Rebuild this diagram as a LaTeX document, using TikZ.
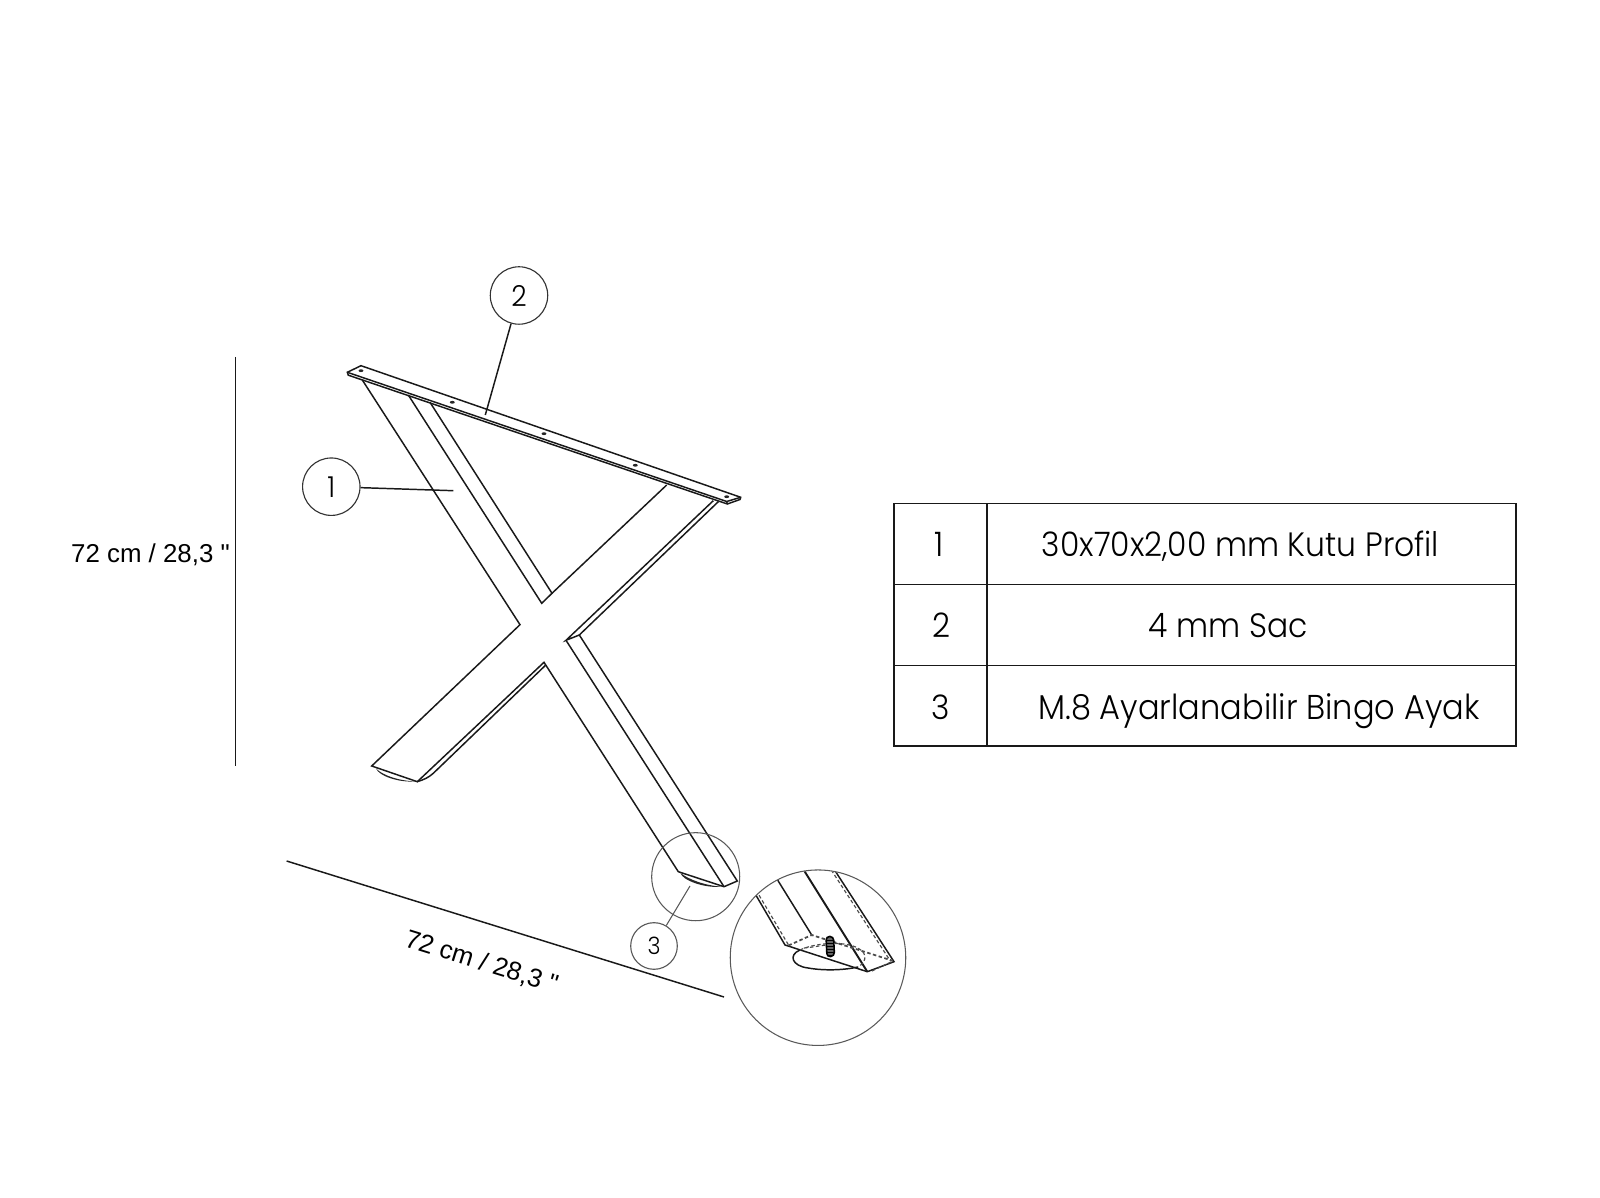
\documentclass[tikz,border=0pt]{standalone}
\usepackage{fontspec}
\setmainfont{Liberation Sans}[Ligatures=TeXOff]
\newfontfamily\tablofont{Poppins}[UprightFont=* Light,FakeStretch=0.93]
\usetikzlibrary{positioning,shapes.geometric}

\tikzset{
	cizgi/.style={line width=0.42pt,color=black!90},
	ince/.style={line width=0.3pt,color=black!65},
	gizli/.style={line width=0.33pt,color=black!70,dash pattern=on 1pt off 0.7pt},
	nokta/.style={fill=black!85,inner sep=0pt,ellipse,minimum width=1.4pt,minimum height=0.8pt},
	balon/.style={circle,draw,line width=0.32pt,color=black!80,text=black,inner sep=0pt},
	olcu/.style={font=\fontsize{7.35}{9}\selectfont,inner sep=0pt},
	tablo/.style={font=\tablofont\fontsize{9.6}{11}\selectfont,inner sep=0pt}
}

\begin{document}
\begin{tikzpicture}[x=0.01cm,y=-0.01cm]

\useasboundingbox (0,0) rectangle (1600,1198);

% sac
\def\Sa{(361,365.7)}
\def\Sb{(347.3,372.3)}
\def\Sc{(348.3,375.2)}
\def\Sd{(726.7,501.5)}
\def\Se{(727.3,504)}
\def\Sf{(740.7,497.3)}
\def\Sg{(740,499.5)}

% profil
\def\Ka{(520,624.7)}
\def\Kb{(541.7,603.3)}
\def\Kc{(552,593.3)}
\def\Kd{(566,640.3)}
\def\Ke{(579.3,635)}
\def\Kf{(544,662.3)}
\def\Kg{(545.3,665.5)}

\draw[cizgi] \Sa--\Sb--\Sc--\Se--\Sg--\Sf--cycle;
\draw[cizgi] \Sb--\Sd--\Sf;
\draw[cizgi] \Sd--\Se;

\foreach \p in {(361,370.7),(452.3,402.3),(544,433.7),(635.3,465.3),(726.7,496.7)}
	\node[nokta] at \p {};

\draw[cizgi] (362.3,380)--\Ka--(371.7,766)--(417.3,781.7)--\Kf--(678.3,871.7)--(724,886.7)--(737.3,881)--\Ke--(718.3,501.7);
\draw[cizgi] (408.3,395)--\Kb--\Kc--(430,402.3);
\draw[cizgi] \Kc--(666.7,485);
\draw[cizgi] (713.3,500.7)--\Kd--\Ke;
\draw[cizgi] \Kd--(724,886.7);
\draw[cizgi] \Kg--(433.3,773.3)..controls (428,778) and (424,779.5)..(417.3,781.7);

% ayak
\fill[black!85] (376,768.5)..controls (379,776) and (398,782.5)..(415,781.5)..controls (398,780.5) and (383,775.5)..cycle;
\fill[black!85] (680.5,873)..controls (682,880) and (704,888.5)..(722,886.7)..controls (704,885.5) and (688,879)..cycle;

% daireler
\node[balon,minimum size=0.574cm,font=\tablofont\fontsize{8.2}{9}\selectfont] (nr2) at (519,295.5) {2};
\node[balon,minimum size=0.574cm,font=\tablofont\fontsize{8.2}{9}\selectfont] (nr1) at (331.3,486.7) {1};
\node[balon,minimum size=0.466cm,color=black!65,text=black,font=\tablofont\fontsize{6.8}{8}\selectfont] (nr3) at (654,946) {3};
\node[circle,draw,ince,minimum size=0.88cm,inner sep=0pt] (kucuk) at (695.7,876.7) {};
\node[circle,draw,ince,minimum size=1.754cm,inner sep=0pt] (buyuk) at (818,957.7) {};

\coordinate (uc2) at (485.3,415);
\coordinate (uc1) at (453.3,490.7);
\coordinate (uc3) at (690,886);

\draw[cizgi] (nr2)--(uc2);
\draw[cizgi] (nr1)--(uc1);
\draw[ince] (nr3)--(uc3);

% detay
\begin{scope}
\clip (818,957.7) circle (87.2);

\draw[cizgi] (750,885)--(785,945)--(867.3,971.7)--(894,961.7)--(830,863);
\draw[cizgi,line width=0.55pt] (800,864)--(867.3,971.7);
\draw[cizgi] (772,871)--(811.7,935);

\draw[gizli] (753,885)--(788.5,945);
\draw[gizli] (828,865)--(890,960.5);
\draw[gizli,line width=0.5pt] (788.5,945.5)--(811.7,935)--(892.5,960.7);
\draw[gizli] (872,971)--(893,961);

\draw[cizgi] (800,950)..controls (788,955) and (792,966)..(808,968)..controls (825,971) and (845,970)..(858,967);
\draw[gizli] (800,950)..controls (812,944) and (838,941)..(853,946)..controls (868,951) and (868,961)..(858,967);
\draw[gizli] (804,948)..controls (815,947) and (823,945)..(828,945);

\filldraw[fill=black!60,draw=black,line width=0.45pt,rounded corners=1pt] (826,936.5)--(833.5,936.5)--(834.5,956)--(827,957)--cycle;
\foreach \t in {940,943,...,955}
	\draw[black,line width=0.2pt] (826.5,\t)--(834,\t);
\end{scope}

% olculer
\coordinate (oa) at (235.6,357);
\coordinate (ob) at (235.6,766);
\coordinate (oc) at (286.6,861);
\coordinate (od) at (724,997);
\draw[cizgi] (oa)--(ob);
\draw[cizgi] (oc)--(od);

\node[olcu] (yukseklik) at (150.5,555) {72 cm / 28,3 "};
\node[olcu,rotate=-17.3] (genislik) at (481.5,962.5) {72 cm / 28,3 "};

% tablo
\draw[cizgi,line width=0.38pt] (894,503.7) rectangle (1516,746);
\draw[cizgi,line width=0.38pt] (987,503.7)--(987,746);
\draw[cizgi,line width=0.38pt] (894,584.3)--(1516,584.3);
\draw[cizgi,line width=0.38pt] (894,665.4)--(1516,665.4);

\node[tablo] (a1) at (939,544) {1};
\node[tablo] (a2) at (941,625) {2};
\node[tablo] (a3) at (941,707) {3};
\node[tablo] (b1) at (1240.5,546) {30x70x2,00 mm Kutu Profil};
\node[tablo] (b2) at (1228,626) {4 mm Sac};
\node[tablo,font=\tablofont\fontsize{9.8}{11}\selectfont] (b3) at (1259,711) {M.8 Ayarlanabilir Bingo Ayak};

\end{tikzpicture}
\end{document}
